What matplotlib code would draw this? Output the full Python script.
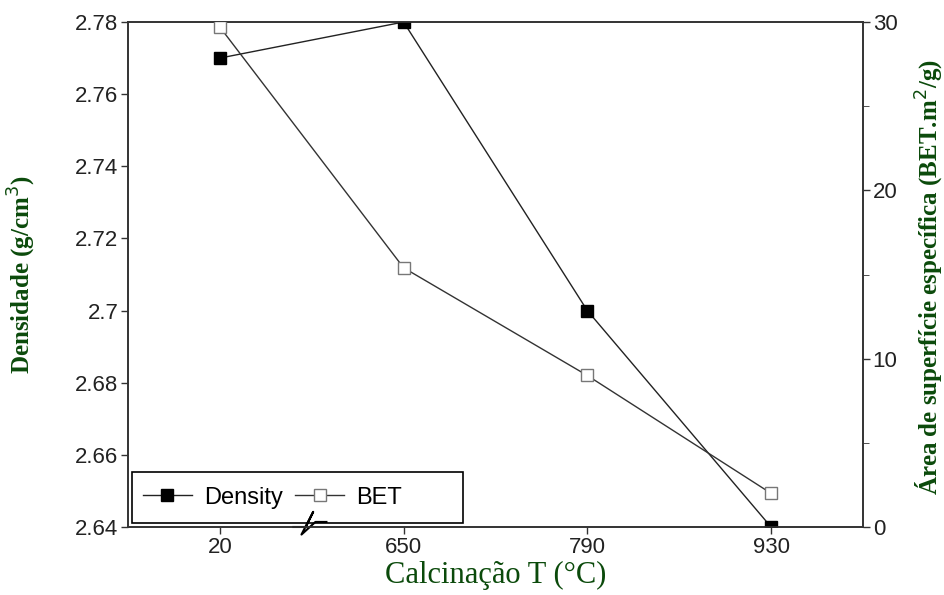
import matplotlib
matplotlib.use("Agg")
import matplotlib.pyplot as plt
from matplotlib.patches import Rectangle
from matplotlib.ticker import FixedLocator, FormatStrFormatter

# data
temps = ["20", "650", "790", "930"]
density = [2.77, 2.78, 2.70, 2.64]
bet = [29.7, 15.4, 9.0, 2.0]

green = "#0b4a0b"
serif = ["Liberation Serif", "DejaVu Serif"]
sans = ["Liberation Sans", "DejaVu Sans"]

fig = plt.figure(figsize=(9.44, 5.95), dpi=100)
ax = fig.add_axes([0.1356, 0.1143, 0.7785, 0.8487])
ax2 = ax.twinx()

x = list(range(len(temps)))
ax.plot(x, density, color="#222222", lw=1.0, marker="s", ms=9,
        mfc="black", mec="black", label="Density", zorder=3)
ax2.plot(x, bet, color="#333333", lw=1.0, marker="s", ms=9,
         mfc="white", mec="#777777", label="BET", zorder=3)

ax.set_xlim(-0.5, 3.5)
ax.set_ylim(2.64, 2.78)
ax2.set_ylim(0, 30)

ax.set_xticks(x)
ax.set_xticklabels(temps)
ax.set_yticks([2.64, 2.66, 2.68, 2.70, 2.72, 2.74, 2.76, 2.78])
ax.yaxis.set_major_formatter(FormatStrFormatter("%g"))
ax2.set_yticks([0, 10, 20, 30])
ax2.yaxis.set_minor_locator(FixedLocator([5, 15, 25]))

for a in (ax, ax2):
    a.tick_params(axis="both", direction="out", length=5, width=1,
                  color="#333333", labelsize=16, pad=2)
    a.tick_params(which="minor", direction="out", length=4, color="#333333")
    for s in a.spines.values():
        s.set_color("#333333")
        s.set_linewidth(1.2)
    for lab in a.get_xticklabels() + a.get_yticklabels():
        lab.set_family(sans)
        lab.set_color("#222222")

ax.set_xlabel("Calcinação T (°C)", family=serif, fontsize=22, color=green,
              va="center")
ax.xaxis.set_label_coords(0.5, -0.095)
ax.set_ylabel("Densidade (g/cm$^3$)", family=serif, fontsize=18,
              fontweight="bold", color=green, va="center")
ax.yaxis.set_label_coords(-0.144, 0.5)
ax2.set_ylabel("Área de superfície específica (BET.m$^2$/g)", family=serif,
               fontsize=18, fontweight="bold", color=green, rotation=90,
               va="center")
ax2.yaxis.set_label_coords(1.091, 0.495)

# legend with a hand-sized frame like the original
ax.add_patch(Rectangle((0.0054, 0.008), 0.451, 0.101, transform=ax.transAxes,
                       facecolor="white", edgecolor="black", lw=1.2,
                       zorder=4))
h1, l1 = ax.get_legend_handles_labels()
h2, l2 = ax2.get_legend_handles_labels()
leg = ax.legend(h1 + h2, l1 + l2, loc="center left",
                bbox_to_anchor=(-0.009, 0.058), ncol=2, frameon=False,
                handlelength=2.1, columnspacing=0.5, handletextpad=0.5,
                prop={"family": sans, "size": 17})
leg.set_zorder(5)

# axis break symbol on the x axis
zx = [0.225, 0.242, 0.252, 0.236, 0.255, 0.27]
zy = [0.0, 0.0, 0.03, -0.015, 0.01, 0.01]
ax.plot(zx, zy, transform=ax.transAxes, color="black", lw=1.5,
        clip_on=False, zorder=6)

fig.savefig("out.png", dpi=100)
